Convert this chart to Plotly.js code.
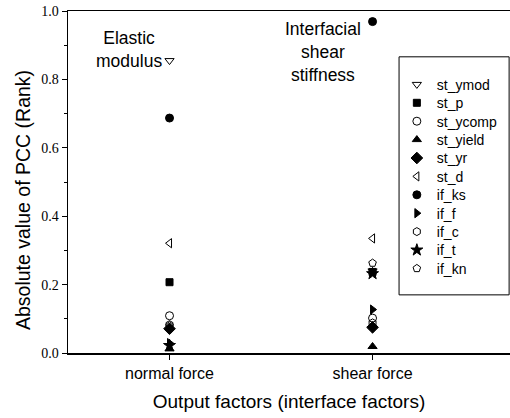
<!DOCTYPE html>
<html>
<head>
<meta charset="utf-8">
<script src="https://cdn.plot.ly/plotly-3.0.1.min.js"></script>
<style>html,body{margin:0;padding:0;background:#fff;}#chart{width:510px;height:418px;}</style>
</head>
<body>
<div id="chart"></div>
<script>
// Categories (output factors)
const categories = ["normal force", "shear force"];
// Series names (interface factors)
const seriesNames = ["st_ymod","st_p","st_ycomp","st_yield","st_yr","st_d","if_ks","if_f","if_c","if_t","if_kn"];
// Values: [normal force, shear force]
const st_ymod  = [0.855, 0.240];
const st_p     = [0.207, 0.237];
const st_ycomp = [0.109, 0.102];
const st_yield = [0.012, 0.019];
const st_yr    = [0.071, 0.075];
const st_d     = [0.321, 0.335];
const if_ks    = [0.687, 0.969];
const if_f     = [0.029, 0.127];
const if_c     = [0.083, 0.088];
const if_t     = [0.022, 0.232];
const if_kn    = [0.080, 0.263];
const seriesValues = [st_ymod, st_p, st_ycomp, st_yield, st_yr, st_d, if_ks, if_f, if_c, if_t, if_kn];
const symbols = ["triangle-down-open","square","circle-open","triangle-up","diamond","triangle-left-open","circle","triangle-right","hexagon-open","star","pentagon-open"];
const sizes = [8,7,8,8,9,8,8,8,8,9,8];

const traces = seriesNames.map((n,i)=>({
  type:"scatter", mode:"markers", name:n,
  x: categories, y: seriesValues[i],
  marker:{symbol:symbols[i], size:sizes[i], color:"#000", line:{color:"#000", width:1}},
  cliponaxis:false
}));

const layout = {
  width:510, height:418,
  margin:{l:68, r:0, t:11, b:65},
  paper_bgcolor:"#fff", plot_bgcolor:"#fff",
  showlegend:true,
  font:{family:"Liberation Sans, Arial, sans-serif", color:"#000"},
  xaxis:{
    type:"category", range:[-0.5, 1.677],
    showline:true, linecolor:"#000", linewidth:1.5, mirror:true,
    ticks:"outside", ticklen:5, tickwidth:1, tickcolor:"#000",
    showgrid:false, zeroline:false,
    tickfont:{family:"Liberation Sans, Arial, sans-serif", size:16, color:"#000"},
    title:{text:"Output factors (interface factors)", font:{size:19, family:"Liberation Sans, Arial, sans-serif"}, standoff:14}
  },
  yaxis:{
    range:[0,1.0], dtick:0.2, tickformat:".1f",
    showline:true, linecolor:"#000", linewidth:1.5, mirror:false,
    ticks:"outside", ticklen:5, tickwidth:1, tickcolor:"#000",
    minor:{dtick:0.1, ticks:"outside", ticklen:3, tickcolor:"#000", showgrid:false},
    showgrid:false, zeroline:false,
    tickfont:{family:"Liberation Serif, Times New Roman, serif", size:14, color:"#000"}
  },
  legend:{
    x:0.744, y:0.831, xanchor:"left", yanchor:"top",
    bgcolor:"rgba(0,0,0,0)", borderwidth:0,
    font:{size:14, family:"Liberation Sans, Arial, sans-serif"},
    tracegroupgap:0, itemclick:false
  },
  shapes:[{type:"rect", xref:"paper", yref:"paper", x0:0.749, x1:0.998, y0:0.17, y1:0.866, line:{color:"#000", width:1}, fillcolor:"rgba(0,0,0,0)"}],
  annotations:[
    {text:"Absolute value of PCC (Rank)", xref:"paper", yref:"paper", x:-0.102, y:0.447, xanchor:"center", yanchor:"middle", textangle:-90, showarrow:false, font:{size:19.5}},
    {text:"Elastic<br>modulus", xref:"x", yref:"y", x:-0.2, y:0.887, showarrow:false, font:{size:17.5}, align:"center"},
    {text:"Interfacial<br>shear<br>stiffness", xref:"x", yref:"y", x:0.754, y:0.881, showarrow:false, font:{size:17.5}, align:"center"}
  ]
};
Plotly.newPlot("chart", traces, layout, {displayModeBar:false, staticPlot:true}).then(gd=>{
  // tighten legend row spacing to match reference
  const items = gd.querySelectorAll(".legend .traces");
  if (!items.length) return;
  const parse = t => { const m = /translate\(\s*([-\d.]+)[ ,]+([-\d.]+)\s*\)/.exec(t||""); return m ? [parseFloat(m[1]), parseFloat(m[2])] : [0,0]; };
  const first = parse(items[0].getAttribute("transform"));
  items.forEach((el,i)=>{
    const p = parse(el.getAttribute("transform"));
    el.setAttribute("transform", "translate(" + p[0] + "," + (first[1] + i*18.4) + ")");
  });
});
</script>
</body>
</html>
